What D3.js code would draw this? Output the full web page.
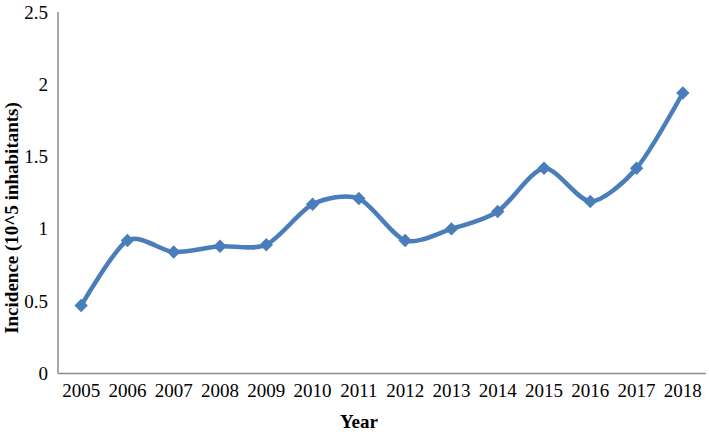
<!DOCTYPE html>
<html><head><meta charset="utf-8">
<script src="https://cdn.jsdelivr.net/npm/d3@7"></script>
<style>body{margin:0;background:#fff}svg{display:block}</style>
</head><body>
<svg id="c" width="709" height="435"></svg>
<script>
const years = ["2005","2006","2007","2008","2009","2010","2011","2012","2013","2014","2015","2016","2017","2018"];
const incidence = [0.47,0.92,0.84,0.88,0.89,1.17,1.21,0.92,1.00,1.12,1.42,1.19,1.42,1.94];
const yTicks = [0,0.5,1,1.5,2,2.5];
const yTitle = "Incidence (10^5 inhabitants)";
const xTitle = "Year";

const svg = d3.select("#c");
const pL = 58, pR = 706, pT = 12, pB = 373.5;
const x = d3.scaleBand().domain(years).range([pL, pR]);
const y = d3.scaleLinear().domain([0, 2.5]).range([pB, pT]);
const font = "'Liberation Serif','Times New Roman',serif";

// axes lines
svg.append("line").attr("x1", pL).attr("x2", pL).attr("y1", pT).attr("y2", pB)
  .attr("stroke", "#8c8c8c").attr("stroke-width", 1.5);
svg.append("line").attr("x1", pL).attr("x2", pR).attr("y1", pB).attr("y2", pB)
  .attr("stroke", "#8c8c8c").attr("stroke-width", 1.5);

// y tick labels
svg.append("g").selectAll("text").data(yTicks).join("text")
  .attr("x", 48).attr("y", d => y(d) + 6.5)
  .attr("text-anchor", "end").attr("font-family", font).attr("font-size", 19)
  .attr("fill", "#000").text(d => d);

// x tick labels
svg.append("g").selectAll("text").data(years).join("text")
  .attr("x", d => x(d) + x.bandwidth() / 2).attr("y", 397)
  .attr("text-anchor", "middle").attr("font-family", font).attr("font-size", 19)
  .attr("fill", "#000").text(d => d);

// titles
svg.append("text").attr("transform", "translate(18," + 218 + ") rotate(-90)")
  .attr("text-anchor", "middle").attr("font-family", font).attr("font-size", 19)
  .attr("font-weight", "bold").text(yTitle);
svg.append("text").attr("x", 359).attr("y", 428)
  .attr("text-anchor", "middle").attr("font-family", font).attr("font-size", 19)
  .attr("font-weight", "bold").text(xTitle);

const pts = years.map((yr, i) => [x(yr) + x.bandwidth() / 2, y(incidence[i])]);
const line = d3.line().curve(d3.curveCardinal.tension(0.2));
svg.append("path").attr("d", line(pts)).attr("fill", "none")
  .attr("stroke", "#4a7ebb").attr("stroke-width", 4.5).attr("stroke-linejoin", "round");

svg.append("g").selectAll("path").data(pts).join("path")
  .attr("d", d3.symbol().type(d3.symbolDiamond2).size(115))
  .attr("transform", d => "translate(" + d[0] + "," + d[1] + ")")
  .attr("fill", "#4a7ebb");
</script>
</body></html>
